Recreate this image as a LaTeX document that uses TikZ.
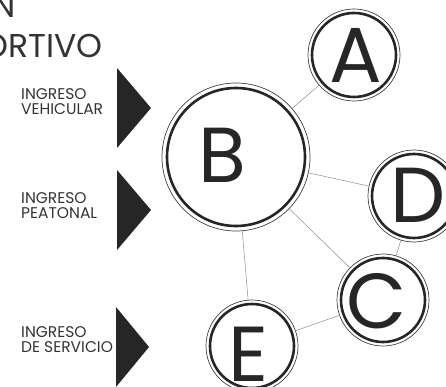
\documentclass[tikz,border=0pt]{standalone}
\usepackage{fontspec}
\setmainfont{Poppins}
\newfontfamily\popfont{Poppins}
\begin{document}
\begin{tikzpicture}[x=1pt,y=-1pt,
  ringbig/.style={circle, draw=black!75, line width=0.7pt, minimum size=148pt, inner sep=0pt},
  ringsmall/.style={circle, draw=black!75, line width=0.7pt, minimum size=92pt, inner sep=0pt},
  innerring/.style={draw=black!85, line width=2.6pt},
  letter/.style={font=\popfont\fontsize{78}{78}\selectfont, text=black!85, inner sep=0pt},
  link/.style={draw=black!45, line width=0.5pt},
  entry/.style={fill=black!85},
  lab/.style={font=\popfont\fontsize{15.5}{15}\selectfont, align=left, anchor=north west, inner sep=0pt, text=black!80},
  ttl/.style={font=\popfont\fontsize{33}{33}\selectfont, anchor=base east, inner sep=0pt, text=black!80}
]
\useasboundingbox (0,0) rectangle (446,387);
% title
\node[ttl] (t1) at (16,18) {N};
\node[ttl] (t2) at (103,58) {ORTIVO};
% labels
\node[lab] (l1) at (21,88) {INGRESO\\VEHICULAR};
\node[lab] (l2) at (21,192) {INGRESO\\PEATONAL};
\node[lab] (l3) at (21,326) {INGRESO\\DE SERVICIO};
% entry triangles
\fill[entry] (117,68) -- (151,108) -- (117,148) -- cycle;
\fill[entry] (117,170) -- (151,210) -- (117,250) -- cycle;
\fill[entry] (116,307) -- (149,347) -- (116,387) -- cycle;
% circles
\node[ringbig] (B) at (236,157) {};
\node[ringsmall] (A) at (354,55) {};
\node[ringsmall] (D) at (414,196) {};
\node[ringsmall] (C) at (383,300) {};
\node[ringsmall] (E) at (252,346) {};
\draw[innerring] (B.center) circle[radius=69pt];
\foreach \n in {A,D,C,E} \draw[innerring] (\n.center) circle[radius=42pt];
% letters
\node[letter] (lA) at (356,55) {A};
\node[letter] (lB) at (222,155) {B};
\node[letter] (lD) at (418,195) {D};
\node[letter] (lC) at (377,301) {C};
\node[letter] (lE) at (249,354) {E};
% links
\draw[link] (B) -- (A);
\draw[link] (B) -- (D);
\draw[link] (B) -- (C);
\draw[link] (B) -- (E);
\draw[link] (D) -- (C);
\draw[link] (E) -- (C);
\end{tikzpicture}
\end{document}
